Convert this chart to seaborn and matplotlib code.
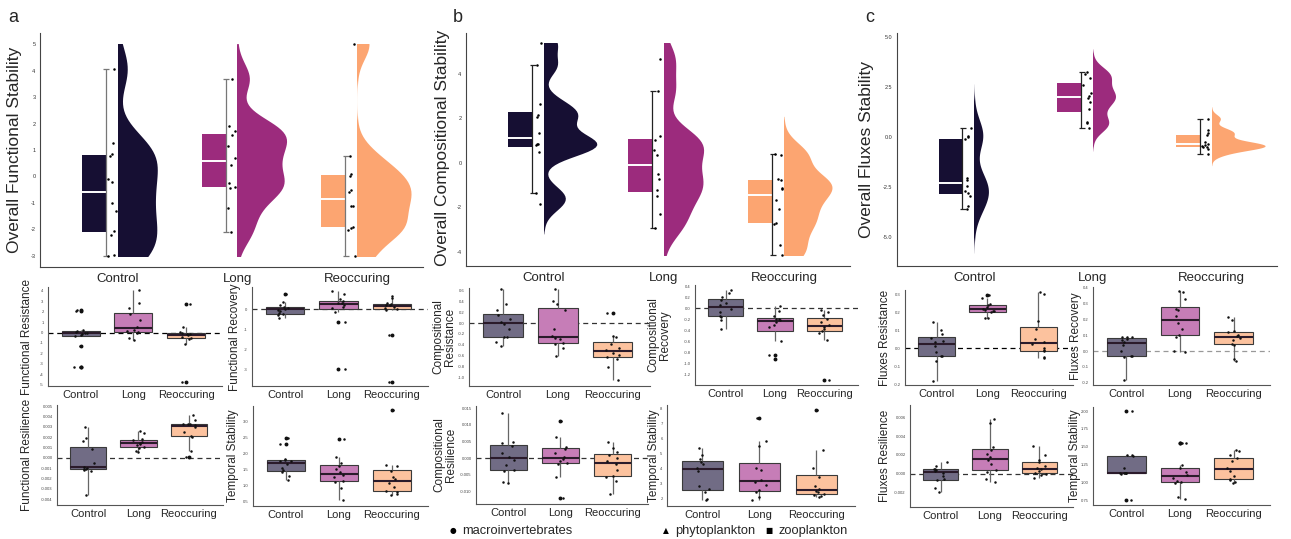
import numpy as np
import pandas as pd
import matplotlib
matplotlib.use("Agg")
import matplotlib.pyplot as plt
import matplotlib.patches as mpatches
from matplotlib import cbook
import seaborn as sns

# ------------------------------------------------------------------ data
groups = ["Control", "Long", "Reoccuring"]

# overall stability (raincloud panels)
func_overall_control = [-3.0, -2.95, -2.2, -2.07, -1.3, -1.0, -0.2, -0.1, 0.78, 0.85, 1.25, 4.07]
func_overall_long = [-2.08, -1.2, -0.42, -0.38, -0.25, 0.45, 0.7, 1.15, 1.55, 1.7, 1.9, 3.7]
func_overall_reocc = [-3.0, -2.02, -1.95, -1.92, -1.12, -1.1, -0.58, -0.5, 0.03, 0.08, 0.76, 5.0]

comp_overall_control = [-1.85, -1.37, 0.48, 0.78, 0.83, 0.86, 1.34, 2.06, 2.16, 2.66, 4.38, 5.39]
comp_overall_long = [-2.93, -2.33, -1.5, -1.25, -0.75, -0.5, 0.33, 0.59, 1.04, 1.19, 3.23, 4.68]
comp_overall_reocc = [-4.17, -3.72, -2.78, -2.72, -2.07, -1.7, -1.17, -1.13, -0.8, -0.72, 0.33, 0.41]

flux_overall_control = [-3.61, -3.45, -2.95, -2.83, -2.7, -2.45, -2.15, -2.08, -0.1, -0.02, 0.05, 0.45]
flux_overall_long = [0.47, 0.71, 0.76, 1.4, 1.75, 1.97, 2.05, 2.2, 2.6, 2.95, 3.16, 3.23]
flux_overall_reocc = [-0.84, -0.6, -0.52, -0.49, -0.45, -0.38, -0.36, -0.25, 0.08, 0.2, 0.37, 0.92]

# functional components
func_resist_control = [-3.3, -3.3, -1.27, -0.3, -0.22, -0.1, -0.05, 0.0, 0.05, 0.15, 0.25, 2.1, 2.2]
func_resist_long = [-0.67, -0.48, -0.05, 0.02, 0.1, 0.22, 0.55, 1.17, 1.75, 2.38, 2.83, 4.03]
func_resist_reocc = [-4.7, -1.14, -0.6, -0.55, -0.4, -0.25, -0.15, -0.1, -0.02, 0.05, 0.54, 2.76]

func_recov_control = [-0.42, -0.3, -0.25, -0.2, -0.1, -0.02, 0.02, 0.08, 0.12, 0.2, 0.37, 0.75]
func_recov_long = [-3.0, -0.65, -0.13, 0.05, 0.1, 0.2, 0.3, 0.33, 0.4, 0.5, 0.75, 0.92]
func_recov_reocc = [-3.63, -1.27, -0.02, 0.01, 0.05, 0.12, 0.2, 0.22, 0.27, 0.32, 0.55, 0.65]

func_resil_control = np.array([-3.6, -1.3, -1.15, -1.12, -1.05, -0.98, -0.9, -0.5, 0.8, 1.6, 1.87, 3.0]) * 1e-3
func_resil_long = np.array([0.58, 0.6, 0.95, 1.02, 1.2, 1.35, 1.43, 1.55, 1.68, 1.8, 2.35, 2.6]) * 1e-3
func_resil_reocc = np.array([0.1, 0.68, 2.0, 2.13, 2.5, 3.0, 3.2, 3.22, 3.25, 3.3, 3.6, 4.13]) * 1e-3

func_temp_control = [1.16, 1.3, 1.42, 1.46, 1.55, 1.65, 1.75, 1.76, 1.77, 1.82, 2.3, 2.46]
func_temp_long = [0.53, 0.9, 1.1, 1.13, 1.25, 1.32, 1.4, 1.5, 1.6, 1.7, 1.89, 2.43]
func_temp_reocc = [0.7, 0.74, 0.8, 0.83, 0.95, 1.08, 1.18, 1.26, 1.45, 1.6, 1.63, 3.34]

# compositional components
comp_resist_control = [-0.43, -0.34, -0.26, -0.25, -0.1, -0.02, 0.02, 0.08, 0.15, 0.25, 0.36, 0.62]
comp_resist_long = [-0.6, -0.45, -0.38, -0.37, -0.3, -0.27, -0.23, -0.1, 0.25, 0.35, 0.4, 0.62]
comp_resist_reocc = [-1.05, -0.81, -0.66, -0.62, -0.58, -0.55, -0.49, -0.45, -0.38, -0.25, -0.23, 0.18]

comp_recov_control = [-0.38, -0.22, -0.16, -0.15, -0.08, -0.02, 0.06, 0.1, 0.15, 0.2, 0.27, 0.33]
comp_recov_long = [-0.93, -0.85, -0.6, -0.35, -0.3, -0.26, -0.22, -0.2, -0.19, -0.15, -0.05, 0.03]
comp_recov_reocc = [-1.3, -0.59, -0.45, -0.41, -0.38, -0.35, -0.31, -0.25, -0.2, -0.12, -0.08, -0.04]

comp_resil_control = np.array([-7.5, -7.0, -3.8, -3.4, -2.0, -0.5, 0.5, 1.5, 3.8, 4.6, 5.0, 13.5]) * 1e-3
comp_resil_long = np.array([-11.8, -5.5, -1.8, -1.4, -0.8, -0.3, 0.3, 1.5, 2.9, 3.3, 6.5, 11.3]) * 1e-3
comp_resil_reocc = np.array([-10.7, -6.8, -5.5, -5.2, -3.5, -1.8, -0.8, 0.2, 1.1, 1.9, 3.0, 5.0]) * 1e-3

comp_temp_control = [1.9, 1.95, 2.4, 2.6, 2.8, 3.8, 4.05, 4.3, 4.45, 4.6, 4.9, 5.38]
comp_temp_long = [1.9, 2.1, 2.45, 2.53, 2.9, 3.1, 3.25, 3.9, 4.0, 5.5, 5.84, 7.33]
comp_temp_reocc = [2.1, 2.15, 2.25, 2.3, 2.4, 2.5, 2.62, 2.8, 3.4, 4.0, 5.22, 7.9]

# fluxes components
flux_resist_control = [-0.18, -0.07, -0.045, -0.042, -0.02, 0.015, 0.033, 0.04, 0.06, 0.08, 0.1, 0.148]
flux_resist_long = [0.167, 0.17, 0.2, 0.205, 0.21, 0.215, 0.221, 0.23, 0.238, 0.245, 0.28, 0.296]
flux_resist_reocc = [-0.056, -0.05, -0.015, -0.012, 0.0, 0.025, 0.037, 0.05, 0.11, 0.15, 0.3, 0.315]

flux_recov_control = [-0.183, -0.04, -0.034, -0.032, 0.0, 0.04, 0.056, 0.07, 0.078, 0.086, 0.088, 0.09]
flux_recov_long = [-0.005, 0.0, 0.09, 0.105, 0.137, 0.18, 0.22, 0.26, 0.265, 0.33, 0.375, 0.38]
flux_recov_reocc = [-0.061, -0.05, 0.04, 0.043, 0.07, 0.085, 0.095, 0.1, 0.12, 0.13, 0.2, 0.213]

flux_resil_control = np.array([-1.96, -1.5, -0.7, -0.62, -0.3, 0.1, 0.25, 0.35, 0.45, 0.5, 0.8, 1.25]) * 1e-3
flux_resil_long = np.array([-0.9, -0.6, 0.2, 0.4, 1.0, 1.4, 1.8, 2.1, 2.5, 2.8, 5.36, 5.8]) * 1e-3
flux_resil_reocc = np.array([-0.43, -0.2, -0.02, 0.02, 0.25, 0.45, 0.63, 0.8, 1.2, 1.4, 2.0, 2.96]) * 1e-3

flux_temp_control = [0.76, 1.12, 1.13, 1.135, 1.14, 1.14, 1.14, 1.2, 1.37, 1.38, 1.38, 2.0]
flux_temp_long = [0.77, 0.8, 1.0, 1.01, 1.03, 1.07, 1.11, 1.15, 1.2, 1.25, 1.55, 1.56]
flux_temp_reocc = [1.0, 1.01, 1.04, 1.05, 1.1, 1.17, 1.21, 1.3, 1.34, 1.38, 1.44, 1.45]

# tick values
ticks_func_overall = [-3, -2, -1, 0, 1, 2, 3, 4, 5]
ticks_comp_overall = [-4, -2, 0, 2, 4]
ticks_flux_overall = [-5.0, -2.5, 0.0, 2.5, 5.0]
ticks_func_resist = [-5, -4, -3, -2, -1, 0, 1, 2, 3, 4]
ticks_func_recov = [-3, -2, -1, 0]
ticks_func_resil = [-0.004, -0.003, -0.002, -0.001, 0.0, 0.001, 0.002, 0.003, 0.004, 0.005]
ticks_func_temp = [0.5, 1.0, 1.5, 2.0, 2.5, 3.0]
ticks_comp_resist = [-1.0, -0.8, -0.6, -0.4, -0.2, 0.0, 0.2, 0.4, 0.6]
ticks_comp_recov = [-1.2, -1.0, -0.8, -0.6, -0.4, -0.2, 0.0, 0.2, 0.4]
ticks_comp_resil = [-0.010, -0.005, 0.000, 0.005, 0.010, 0.015]
ticks_comp_temp = [2, 3, 4, 5, 6, 7, 8]
ticks_flux_resist = [-0.2, -0.1, 0.0, 0.1, 0.2, 0.3]
ticks_flux_recov = [-0.2, -0.1, 0.0, 0.1, 0.2, 0.3, 0.4]
ticks_flux_resil = [-0.002, 0.000, 0.002, 0.004, 0.006]
ticks_flux_temp = [0.75, 1.00, 1.25, 1.50, 1.75, 2.00]

legend_labels = ["macroinvertebrates", "phytoplankton", "zooplankton"]

# ------------------------------------------------------------------ style
main_colors = ["#160f33", "#9c2b7d", "#fca571"]
light_colors = ["#716c85", "#c67db7", "#fcc29e"]

W, H = 1291, 539
sns.set_style("white")
plt.rcParams["font.family"] = ["Liberation Sans", "DejaVu Sans"]
plt.rcParams["axes.linewidth"] = 0.8

fig = plt.figure(figsize=(W / 100, H / 100), dpi=100)


def add_ax(x0, y0, x1, y1):
    return fig.add_axes([x0 / W, 1 - y1 / H, (x1 - x0) / W, (y1 - y0) / H])


def style_axes(ax, spine_color="#444444"):
    for s in ["top", "right"]:
        ax.spines[s].set_visible(False)
    for s in ["left", "bottom"]:
        ax.spines[s].set_color(spine_color)
        ax.spines[s].set_linewidth(0.8)
    ax.set_xlabel("")
    ax.set_ylabel("")
    ax.tick_params(axis="both", length=2, width=0.5, color="#555555", pad=1.2)


def nrd0(v):
    v = np.asarray(v, float)
    sd = v.std(ddof=1)
    q75, q25 = np.percentile(v, [75, 25])
    iqr = q75 - q25
    lo = min(sd, iqr / 1.34) if iqr > 0 else sd
    return 0.9 * lo * len(v) ** -0.2


def raincloud(ax, arrays, halfws, bw_adjs, clip, bracket_color, ylim, yticks, yfmt):
    for i, (vals, col, hw, bw_adj) in enumerate(zip(arrays, main_colors, halfws, bw_adjs)):
        vals = np.asarray(vals, float)
        n = len(vals)
        # half violin (clipped to right half and to the data range)
        before = list(ax.collections)
        bw = nrd0(vals) * bw_adj / vals.std(ddof=1)
        sns.violinplot(x=np.full(n, float(i)), y=vals, native_scale=True, orient="x",
                       ax=ax, color=col, saturation=1, inner=None, cut=3,
                       width=2 * hw, bw_method=bw, linewidth=0)
        new = [c for c in ax.collections if c not in before]
        lo, hi = clip if clip is not None else (-1e3, 1e3)
        rect = mpatches.Rectangle((i, lo), 10, hi - lo, transform=ax.transData)
        for c in new:
            c.set_clip_path(rect)
        # box
        sns.boxplot(x=np.full(n, i - 0.2), y=vals, native_scale=True, orient="x", ax=ax,
                    color=col, saturation=1, width=0.2, showfliers=False, showcaps=False,
                    linewidth=0, whiskerprops=dict(linewidth=0),
                    boxprops=dict(edgecolor=col, linewidth=0),
                    medianprops=dict(color="white", linewidth=1.4))
        # whisker bracket
        st = cbook.boxplot_stats(vals)[0]
        xb = i - 0.1
        ax.vlines(xb, st["whislo"], st["whishi"], color=bracket_color, lw=0.9, zorder=3)
        ax.hlines([st["whislo"], st["whishi"]], xb - 0.02, xb + 0.03,
                  color=bracket_color, lw=0.9, zorder=3)
        # raw points
        sns.stripplot(x=np.full(n, i - 0.05), y=vals, native_scale=True, orient="x", ax=ax,
                      color="black", size=1.8, jitter=0.035, zorder=4)
    ax.set_xlim(-0.65, 2.55)
    ax.set_ylim(*ylim)
    ax.set_xticks([0, 1, 2])
    ax.set_xticklabels(groups, fontsize=9.5)
    ax.set_yticks(yticks)
    ax.set_yticklabels([yfmt.format(t) for t in yticks], fontsize=4, color="#333333")
    style_axes(ax)
    ax.tick_params(axis="x", length=2.5, pad=2)


def small_box(ax, arrays, ref, ref_color, ylim, yticks, yfmt):
    df = pd.DataFrame({
        "group": np.repeat(groups, [len(a) for a in arrays]),
        "value": np.concatenate([np.asarray(a, float) for a in arrays]),
    })
    sns.boxplot(data=df, x="group", y="value", order=groups, hue="group", hue_order=groups,
                palette=light_colors, legend=False, saturation=1, width=0.72,
                linecolor="#3a3a3a", linewidth=0.8, fliersize=1.8, showcaps=False,
                flierprops=dict(marker="o", markerfacecolor="#111111", markeredgecolor="#111111"),
                medianprops=dict(color="#2b1b2b", linewidth=1.5),
                whiskerprops=dict(color="#666666", linewidth=0.9), ax=ax)
    if ref is not None:
        ax.axhline(ref, ls=(0, (4, 3)), color=ref_color, lw=0.9, zorder=1.5)
    sns.stripplot(data=df, x="group", y="value", order=groups, color="#111111",
                  size=1.8, jitter=0.13, ax=ax, zorder=4)
    ax.set_xlim(-0.62, 2.68)
    ax.set_ylim(*ylim)
    ax.set_xticks([0, 1, 2])
    ax.set_xticklabels(groups, fontsize=8)
    ax.set_yticks(yticks)
    ax.set_yticklabels([yfmt.format(t) for t in yticks], fontsize=3, color="#444444")
    style_axes(ax, "#555555")


np.random.seed(7)

# ------------------------------------------------------------------ top raincloud panels
ax_a = add_ax(40, 33, 423, 267)
raincloud(ax_a, [func_overall_control, func_overall_long, func_overall_reocc],
          [0.33, 0.41, 0.45], [0.7, 0.7, 0.7], (-3.0, 5.0), "#777777", (-3.42, 5.42),
          ticks_func_overall, "{:d}")

ax_b = add_ax(466, 33, 850, 266)
raincloud(ax_b, [comp_overall_control, comp_overall_long, comp_overall_reocc],
          [0.44, 0.33, 0.40], [0.7, 0.7, 0.7], (-4.17, 5.39), "#222222", (-4.65, 5.84),
          ticks_comp_overall, "{:d}")

ax_c = add_ax(897, 33, 1277, 266)
raincloud(ax_c, [flux_overall_control, flux_overall_long, flux_overall_reocc],
          [0.12, 0.19, 0.45], [0.9, 0.75, 0.8], None, "#222222", (-6.46, 5.2),
          ticks_flux_overall, "{:.1f}")

# ------------------------------------------------------------------ small panels
panels = [
    # (box px, arrays, ref, ref color, ylim, ticks, fmt)
    ((48, 287, 222, 386), [func_resist_control, func_resist_long, func_resist_reocc], 0, "black", (-5.11, 4.35), ticks_func_resist, "{:d}"),
    ((252, 287, 428, 386), [func_recov_control, func_recov_long, func_recov_reocc], 0, "#333333", (-3.85, 1.12), ticks_func_recov, "{:d}"),
    ((57, 405, 223, 505), [func_resil_control, func_resil_long, func_resil_reocc], 0, "#333333", (-4.58e-3, 5.1e-3), ticks_func_resil, "{:.3f}"),
    ((253, 406, 428, 506), [func_temp_control, func_temp_long, func_temp_reocc], None, None, (0.35, 3.47), ticks_func_temp, "{:.1f}"),
    ((469, 288, 650, 386), [comp_resist_control, comp_resist_long, comp_resist_reocc], 0, "#333333", (-1.157, 0.646), ticks_comp_resist, "{:.1f}"),
    ((695, 285, 858, 385), [comp_recov_control, comp_recov_long, comp_recov_reocc], 0, "#333333", (-1.4, 0.42), ticks_comp_recov, "{:.1f}"),
    ((476, 406, 648, 504), [comp_resil_control, comp_resil_long, comp_resil_reocc], 0, "#333333", (-13.7e-3, 15.7e-3), ticks_comp_resil, "{:.3f}"),
    ((667, 405, 855, 506), [comp_temp_control, comp_temp_long, comp_temp_reocc], None, None, (1.49, 8.22), ticks_comp_temp, "{:d}"),
    ((905, 290, 1073, 385), [flux_resist_control, flux_resist_long, flux_resist_reocc], 0, "black", (-0.204, 0.324), ticks_flux_resist, "{:.1f}"),
    ((1093, 287, 1270, 385), [flux_recov_control, flux_recov_long, flux_recov_reocc], 0, "#999999", (-0.215, 0.406), ticks_flux_recov, "{:.1f}"),
    ((910, 405, 1073, 507), [flux_resil_control, flux_resil_long, flux_resil_reocc], 0, "#333333", (-3.57e-3, 7.32e-3), ticks_flux_resil, "{:.3f}"),
    ((1093, 407, 1270, 505), [flux_temp_control, flux_temp_long, flux_temp_reocc], None, None, (0.69, 2.056), ticks_flux_temp, "{:.2f}"),
]
for (x0, y0, x1, y1), arrays, ref, rc, ylim, ticks, fmt in panels:
    ax = add_ax(x0, y0, x1, y1)
    small_box(ax, arrays, ref, rc, ylim, ticks, fmt)

# ------------------------------------------------------------------ texts
def ftext(px, py, s, **kw):
    fig.text(px / W, 1 - py / H, s, **kw)

# panel letters
ftext(13, 17, "a", fontsize=13, ha="center", va="center")
ftext(458, 17, "b", fontsize=13, ha="center", va="center")
ftext(870, 17, "c", fontsize=13, ha="center", va="center")

# y labels (top)
ylab_kw = dict(rotation=90, ha="center", va="center")
ftext(15, 150, "Overall Functional Stability", fontsize=12.5, **ylab_kw)
ftext(442, 148, "Overall Compositional Stability", fontsize=12.5, **ylab_kw)
ftext(866, 150, "Overall Fluxes Stability", fontsize=12.5, **ylab_kw)

# y labels (small panels)
sl = dict(fontsize=8.5, linespacing=0.95, **ylab_kw)
ftext(27, 337, "Functional Resistance", **sl)
ftext(235, 337, "Functional Recovery", **sl)
ftext(27, 455, "Functional Resilience", **sl)
ftext(233, 456, "Temporal Stability", **sl)
ftext(444, 337, "Compositional\nResistance", **sl)
ftext(659, 335, "Compositional\nRecovery", **sl)
ftext(445, 455, "Compositional\nResilience", **sl)
ftext(654, 456, "Temporal Stability", **sl)
ftext(885, 338, "Fluxes Resistance", **sl)
ftext(1076, 336, "Fluxes Recovery", **sl)
ftext(885, 456, "Fluxes Resilience", **sl)
ftext(1075, 456, "Temporal Stability", **sl)

# legend
leg_x = [453, 666, 769]
leg_marks = ["\u25CF", "\u25B2", "\u25A0"]
for px, mk, lab in zip(leg_x, leg_marks, legend_labels):
    ftext(px, 531, mk, fontsize=5.5, ha="center", va="center", color="black",
          family=["DejaVu Sans"])
    ftext(px + 9, 531, lab, fontsize=9.3, ha="left", va="center")

fig.savefig("out.png", dpi=100)
